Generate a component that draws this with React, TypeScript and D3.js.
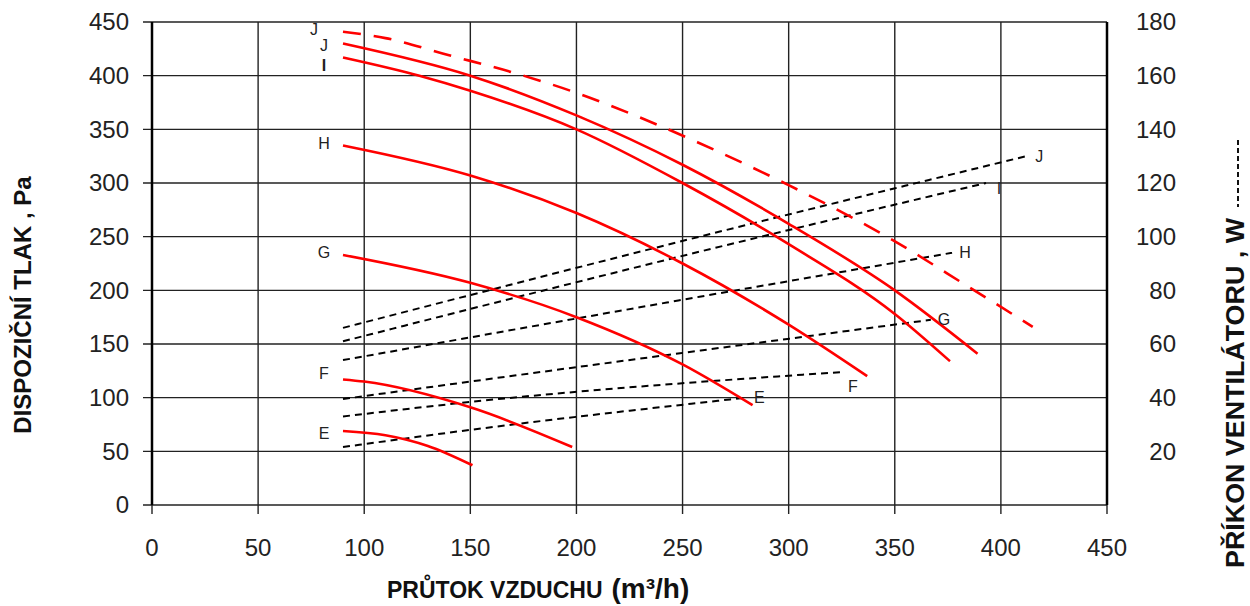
import React, { useEffect, useRef } from 'react';
import * as d3 from 'd3';

// průtok vzduchu (m3/h) a dispoziční tlak (Pa) / příkon (W)
const flowTicks = [0, 50, 100, 150, 200, 250, 300, 350, 400, 450];
const pressureTicks = [0, 50, 100, 150, 200, 250, 300, 350, 400, 450];
const powerTicks = [20, 40, 60, 80, 100, 120, 140, 160, 180];

const pressureE = [[90, 69], [110, 65], [130, 55], [151, 37]];
const pressureF = [[90, 117], [100, 115], [150, 91], [198, 54]];
const pressureG = [[90, 233], [150, 207], [200, 175], [250, 131], [283, 93]];
const pressureH = [[90, 335], [150, 307], [200, 272], [250, 225], [300, 168], [337, 120]];
const pressureI = [[90, 417], [126, 400], [150, 386], [200, 350], [250, 300], [300, 243], [350, 178], [376, 134]];
const pressureJ = [[90, 430], [150, 400], [200, 363], [250, 317], [300, 262], [350, 200], [389, 141]];
const pressureJmax = [[90, 441], [110, 435], [140, 419], [170, 403], [200, 384], [230, 361], [257, 338], [300, 298], [348, 248], [385, 203], [415, 166]];

const powerE = [[90, 21.6], [150, 28], [280, 40]];
const powerF = [[90, 33], [150, 38.4], [326, 49.6]];
const powerG = [[90, 39.5], [150, 46], [367, 69]];
const powerH = [[90, 54], [258, 77.6], [377, 94]];
const powerI = [[90, 61], [258, 94.4], [393, 120]];
const powerJ = [[90, 66], [258, 100], [412, 130]];

const pressureCurves = [
  { name: 'E', pts: pressureE, dashed: false },
  { name: 'F', pts: pressureF, dashed: false },
  { name: 'G', pts: pressureG, dashed: false },
  { name: 'H', pts: pressureH, dashed: false },
  { name: 'I', pts: pressureI, dashed: false },
  { name: 'J', pts: pressureJ, dashed: false },
  { name: 'J', pts: pressureJmax, dashed: true },
];
const powerCurves = [
  { name: 'E', pts: powerE },
  { name: 'F', pts: powerF },
  { name: 'G', pts: powerG },
  { name: 'H', pts: powerH },
  { name: 'I', pts: powerI },
  { name: 'J', pts: powerJ },
];

const font = '"Liberation Sans", Arial, sans-serif';

export default function App() {
  const svgRef = useRef<SVGSVGElement>(null);

  useEffect(() => {
    const svg = d3.select(svgRef.current);
    svg.selectAll('*').remove();

    const x = d3.scaleLinear().domain([0, 450]).range([152, 1107]);
    const yL = d3.scaleLinear().domain([0, 450]).range([505, 22]);
    const yR = d3.scaleLinear().domain([0, 180]).range([505, 22]);

    // mřížka
    svg.append('g')
      .selectAll('line')
      .data(pressureTicks)
      .join('line')
      .attr('x1', 143).attr('x2', 1107)
      .attr('y1', d => yL(d)).attr('y2', d => yL(d))
      .attr('stroke', '#222').attr('stroke-width', 1.4);
    svg.append('g')
      .selectAll('line')
      .data(flowTicks)
      .join('line')
      .attr('x1', d => x(d)).attr('x2', d => x(d))
      .attr('y1', 22).attr('y2', 514)
      .attr('stroke', '#222').attr('stroke-width', 1.4);
    svg.append('line').attr('x1', x(0)).attr('x2', x(0)).attr('y1', 22).attr('y2', 505)
      .attr('stroke', '#000').attr('stroke-width', 2.5);
    svg.append('line').attr('x1', x(450)).attr('x2', x(450)).attr('y1', 22).attr('y2', 505)
      .attr('stroke', '#000').attr('stroke-width', 2.5);

    // popisky os
    svg.append('g')
      .selectAll('text')
      .data(pressureTicks)
      .join('text')
      .attr('x', 129).attr('y', d => yL(d))
      .attr('dy', '0.35em')
      .attr('text-anchor', 'end')
      .style('font-family', font).style('font-size', '24px').style('fill', '#222')
      .text(d => d);
    svg.append('g')
      .selectAll('text')
      .data(flowTicks)
      .join('text')
      .attr('x', d => x(d)).attr('y', 556)
      .attr('text-anchor', 'middle')
      .style('font-family', font).style('font-size', '24px').style('fill', '#222')
      .text(d => d);
    svg.append('g')
      .selectAll('text')
      .data(powerTicks)
      .join('text')
      .attr('x', 1176).attr('y', d => yR(d))
      .attr('dy', '0.35em')
      .attr('text-anchor', 'end')
      .style('font-family', font).style('font-size', '24px').style('fill', '#222')
      .text(d => d);

    const lineL = d3.line<number[]>().x(d => x(d[0])).y(d => yL(d[1])).curve(d3.curveMonotoneX);
    const lineR = d3.line<number[]>().x(d => x(d[0])).y(d => yR(d[1])).curve(d3.curveMonotoneX);

    // příkon - černé čárkované
    svg.append('g')
      .selectAll('path')
      .data(powerCurves)
      .join('path')
      .attr('d', d => lineR(d.pts))
      .attr('fill', 'none')
      .attr('stroke', '#000')
      .attr('stroke-width', 2)
      .attr('stroke-dasharray', '7 5');

    // tlak - červené
    svg.append('g')
      .selectAll('path')
      .data(pressureCurves)
      .join('path')
      .attr('d', d => lineL(d.pts))
      .attr('fill', 'none')
      .attr('stroke', '#ff0000')
      .attr('stroke-width', 2.6)
      .attr('stroke-dasharray', d => (d.dashed ? '18 13' : null));

    // písmena u začátků křivek
    const startDy = [2, -6, -3, -2, 8, 2, -2];
    svg.append('g')
      .selectAll('text')
      .data(pressureCurves)
      .join('text')
      .attr('x', (d, i) => x(d.pts[0][0]) - (i === 6 ? 29 : 19))
      .attr('y', (d, i) => yL(d.pts[0][1]) + startDy[i])
      .attr('dy', '0.35em')
      .attr('text-anchor', 'middle')
      .style('font-family', font).style('font-size', '16px')
      .style('font-weight', d => (d.name === 'I' ? 'bold' : 'normal'))
      .style('fill', '#222')
      .text(d => d.name);

    // písmena u konců příkonových křivek
    svg.append('g')
      .selectAll('text')
      .data(powerCurves)
      .join('text')
      .attr('x', d => x(d.pts[d.pts.length - 1][0]) + (d.name === 'F' ? 9 : 13))
      .attr('y', d => yR(d.pts[d.pts.length - 1][1]) + (d.name === 'F' ? 14 : d.name === 'I' ? 5 : 0))
      .attr('dy', '0.35em')
      .attr('text-anchor', 'middle')
      .style('font-family', font).style('font-size', '16px')
      .style('fill', '#222')
      .text(d => d.name);

    // názvy os
    svg.append('text')
      .attr('transform', 'translate(31,305) rotate(-90)')
      .attr('text-anchor', 'middle')
      .style('font-family', font).style('font-size', '24px').style('font-weight', 'bold')
      .style('fill', '#111')
      .text('DISPOZIČNÍ TLAK , Pa');
    svg.append('text')
      .attr('transform', 'translate(1244,393) rotate(-90)')
      .attr('text-anchor', 'middle')
      .style('font-family', font).style('font-size', '25px').style('font-weight', 'bold')
      .style('fill', '#111')
      .attr('textLength', 350)
      .attr('lengthAdjust', 'spacingAndGlyphs')
      .text('PŘÍKON VENTILÁTORU , W');
    svg.append('line')
      .attr('x1', 1238).attr('x2', 1238).attr('y1', 140).attr('y2', 207)
      .attr('stroke', '#111').attr('stroke-width', 2).attr('stroke-dasharray', '5 3');

    const xt = svg.append('text')
      .attr('x', 387).attr('y', 598)
      .style('font-family', font).style('fill', '#111');
    xt.append('tspan').style('font-size', '23px').style('font-weight', 'bold').text('PRŮTOK VZDUCHU');
    xt.append('tspan').attr('dx', 9).style('font-size', '28px').style('font-weight', 'bold').text('(m³/h)');
  }, []);

  return (
    <svg
      ref={svgRef}
      width={1250}
      height={606}
      style={{ position: 'absolute', left: 0, top: 0, background: '#fff' }}
    />
  );
}
